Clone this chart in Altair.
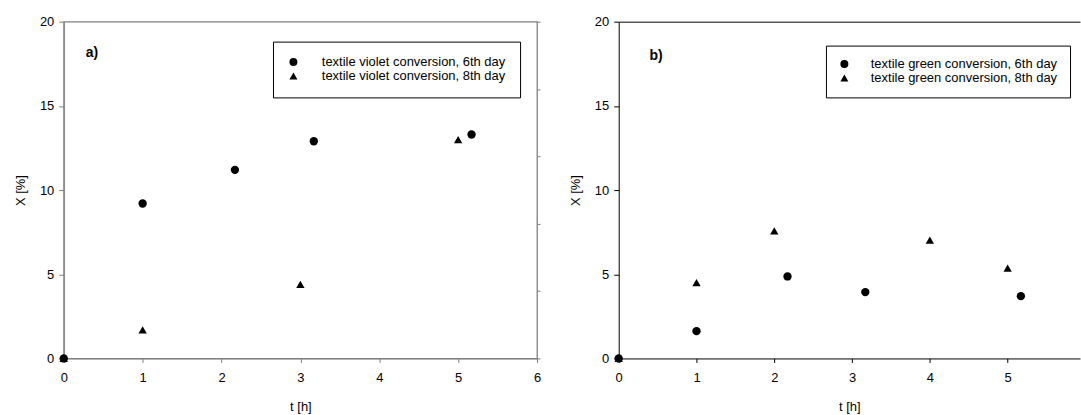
import altair as alt
import pandas as pd

# ---- data ----
lab_v6 = "textile violet conversion, 6th day"
lab_v8 = "textile violet conversion, 8th day"
lab_g6 = "textile green conversion, 6th day"
lab_g8 = "textile green conversion, 8th day"

t_violet_6 = [0, 1, 2.17, 3.17, 5.17]
x_violet_6 = [0, 9.2, 11.2, 12.9, 13.3]
t_violet_8 = [0, 1, 3, 5]
x_violet_8 = [0, 1.7, 4.4, 13.0]

t_green_6 = [0, 1, 2.17, 3.17, 5.17]
x_green_6 = [0, 1.62, 4.87, 3.94, 3.70]
t_green_8 = [0, 1, 2, 4, 5]
x_green_8 = [0, 4.5, 7.58, 7.03, 5.36]

x_ticks_a = [0, 1, 2, 3, 4, 5, 6]
x_ticks_b = [0, 1, 2, 3, 4, 5]
y_ticks = [0, 5, 10, 15, 20]
y_ticks_right = [0, 4, 8, 12, 16, 20]

gray = "#7f7f7f"
FONT = "Liberation Sans"
FS = 13

dfa = pd.DataFrame({
    "t": t_violet_8 + t_violet_6,
    "X": x_violet_8 + x_violet_6,
    "series": [lab_v8] * len(t_violet_8) + [lab_v6] * len(t_violet_6),
})
dfb = pd.DataFrame({
    "t": t_green_8 + t_green_6,
    "X": x_green_8 + x_green_6,
    "series": [lab_g8] * len(t_green_8) + [lab_g6] * len(t_green_6),
})


def x_axis(values, color):
    return alt.Axis(title="t [h]", values=values, tickSize=4, labelPadding=9,
                    titlePadding=16, domainColor=color, tickColor=color, grid=False,
                    labelColor="black", titleColor="black", labelFontSize=FS,
                    titleFontSize=FS, titleFontWeight="normal", labelFlush=False,
                    labelFont=FONT, titleFont=FONT)


def y_axis(color):
    return alt.Axis(title="X [%]", values=y_ticks, tickSize=5, labelPadding=5,
                    titlePadding=12, domainColor=color, tickColor=color, grid=False,
                    labelColor="black", titleColor="black", labelFontSize=FS,
                    titleFontSize=FS, titleFontWeight="normal", labelFont=FONT,
                    titleFont=FONT)


def legend(x, y, pad, off):
    return alt.Legend(title=None, orient="none", legendX=x, legendY=y,
                      strokeColor="black", fillColor="white", padding=pad,
                      labelFontSize=FS, labelFont=FONT, labelColor="black",
                      labelLimit=400, symbolSize=64, symbolFillColor="black",
                      symbolStrokeWidth=0, labelOffset=off, rowPadding=-6)


# ---- panel a ----
xa_scale = alt.Scale(domain=[0, 6], nice=False, zero=False)
y_scale = alt.Scale(domain=[0, 20], nice=False, zero=False)

pts_a = alt.Chart(dfa).mark_point(filled=True, opacity=1, size=70, color="black").encode(
    x=alt.X("t:Q", scale=xa_scale, axis=x_axis(x_ticks_a, gray)),
    y=alt.Y("X:Q", scale=y_scale, axis=y_axis(gray)),
    shape=alt.Shape("series:N",
                    scale=alt.Scale(domain=[lab_v6, lab_v8], range=["circle", "triangle-up"]),
                    legend=legend(210, 20, 14, 22)),
)
right_a = alt.Chart(dfa).mark_point(opacity=0).encode(
    x=alt.X("t:Q", scale=xa_scale, axis=x_axis(x_ticks_a, gray)),
    y=alt.Y("X:Q", scale=y_scale,
            axis=alt.Axis(orient="right", title=None, labels=False, values=y_ticks_right,
                          tickSize=3, domain=False, tickColor=gray, grid=False)),
)
lab_a = alt.Chart(pd.DataFrame({"txt": ["a)"]})).mark_text(
    align="left", baseline="middle", fontSize=14, fontWeight="bold", font=FONT, color="black"
).encode(x=alt.value(22), y=alt.value(31), text="txt:N")

chart_a = alt.layer(pts_a, right_a, lab_a).resolve_scale(y="independent").properties(
    width=475, height=338, view=alt.ViewBackground(stroke=gray, strokeWidth=1.3))

# ---- panel b ----
xb_scale = alt.Scale(domain=[0, 5.93], nice=False, zero=False)

pts_b = alt.Chart(dfb).mark_point(filled=True, opacity=1, size=70, color="black").encode(
    x=alt.X("t:Q", scale=xb_scale, axis=x_axis(x_ticks_b, "black")),
    y=alt.Y("X:Q", scale=y_scale, axis=y_axis("black")),
    shape=alt.Shape("series:N",
                    scale=alt.Scale(domain=[lab_g6, lab_g8], range=["circle", "triangle-up"]),
                    legend=legend(208, 24, 12, 20)),
)
top_b = alt.Chart(dfb).mark_point(opacity=0).encode(
    x=alt.X("t:Q", scale=xb_scale,
            axis=alt.Axis(orient="top", title=None, labels=False, ticks=False,
                          domainColor="black", grid=False)),
    y=alt.Y("X:Q", scale=y_scale, axis=y_axis("black")),
)
lab_b = alt.Chart(pd.DataFrame({"txt": ["b)"]})).mark_text(
    align="left", baseline="middle", fontSize=14, fontWeight="bold", font=FONT, color="black"
).encode(x=alt.value(31), y=alt.value(34), text="txt:N")

chart_b = alt.layer(pts_b, top_b, lab_b).resolve_scale(x="independent").properties(
    width=463, height=338, view=alt.ViewBackground(stroke="transparent"))

chart = alt.hconcat(chart_a, chart_b, spacing=27).resolve_scale(shape="independent").properties(
    padding={"left": 13, "top": 14, "right": 0, "bottom": 0}
).configure(font=FONT).configure_view(strokeWidth=1)

chart.save("out.html", embed_options={"renderer": "svg", "actions": False})
